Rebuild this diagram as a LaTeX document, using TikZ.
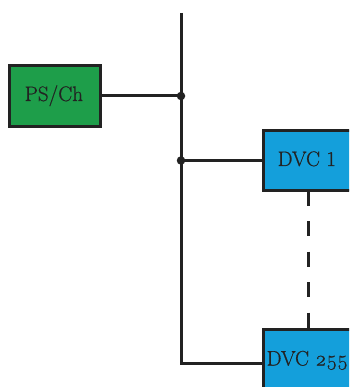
\documentclass[tikz,border=0pt]{standalone}
\usepackage{fontspec}
\setmainfont{Latin Modern Roman}[FakeBold=0.6]
\newfontfamily\oldnumfont[Numbers=OldStyle,FakeBold=0.6]{Latin Modern Roman}
\definecolor{boxgreen}{HTML}{1E9E4A}
\definecolor{boxblue}{HTML}{149FDB}
\definecolor{linedark}{HTML}{222222}
\begin{document}
\begin{tikzpicture}[x=1pt,y=-1pt,
  wire/.style={draw=linedark,line width=3pt},
  boxstyle/.style={draw=linedark,line width=3.5pt},
  lbl/.style={font=\fontsize{21}{24}\selectfont,text=linedark,inner sep=0pt},
  junct/.style={circle,fill=linedark,inner sep=0pt,minimum size=8.5pt}]
\useasboundingbox (0,0) rectangle (349,387);
\clip (0,0) rectangle (349,387);
% boxes
\draw[boxstyle,fill=boxgreen] (9.5,65.5) rectangle (100.5,126.5);
\node[lbl,anchor=base west] (ps) at (24.5,101) {PS/Ch};
\coordinate (psR) at (100.5,96);
\draw[boxstyle,fill=boxblue] (263.5,130.5) rectangle (352,190.5);
\node[lbl,anchor=base west] (d1) at (277.5,166) {DVC 1};
\coordinate (d1L) at (263.5,160.5);
\coordinate (d1B) at (308.5,190.5);
\draw[boxstyle,fill=boxblue] (263.5,329.5) rectangle (352,392);
\node[lbl,anchor=base west] (d255) at (266.5,365.5) {DVC {\oldnumfont 255}};
\coordinate (d255L) at (263.5,363);
\coordinate (d255T) at (308.5,329.5);
% bus
\coordinate (top) at (181,13);
\coordinate (j1) at (181,96);
\coordinate (j2) at (181,160.5);
\coordinate (bot) at (181,363);
\draw[wire] (top) -- (bot) -- (d255L);
\draw[wire] (psR) -- (j1);
\draw[wire] (j2) -- (d1L);
\node[junct] at (j1) {};
\node[junct] at (j2) {};
\draw[wire,dash pattern=on 15pt off 15.5pt] (d1B) -- (d255T);
\end{tikzpicture}
\end{document}
